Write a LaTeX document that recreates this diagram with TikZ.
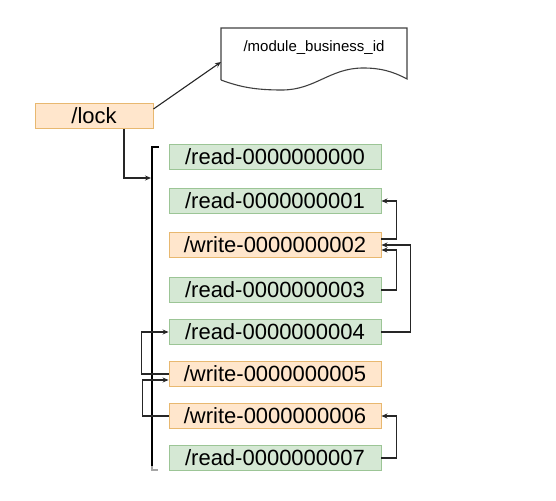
\documentclass[tikz,border=0pt]{standalone}
\usepackage{fontspec}
\setmainfont{Liberation Sans}
\usetikzlibrary{arrows.meta}
\definecolor{rdfill}{HTML}{D5E8D4}
\definecolor{rdline}{HTML}{9CC596}
\definecolor{wrfill}{HTML}{FFE6CC}
\definecolor{wrline}{HTML}{E8B870}

\begin{document}
\begin{tikzpicture}[x=1pt,y=-1pt,
   rd/.style={draw=rdline,fill=rdfill,line width=0.9pt,minimum width=212pt,
      minimum height=25pt,inner sep=0pt,font=\fontsize{22}{26}\selectfont},
   wr/.style={rd,draw=wrline,fill=wrfill},
   conn/.style={line width=1.1pt,black!85,-{Stealth[length=6pt,width=5pt]}}]
   \useasboundingbox (0,0) rectangle (556,500);
   %
   \node[wr,minimum width=118pt] (lock) at (94,116) {/lock};
   \node[font=\fontsize{15}{18}\selectfont] (doc) at (314,48) {/module\_business\_id};
   \coordinate (docin) at (221,62);
   \draw[line width=1.1pt,black!75] (221,80) -- (221,28) -- (407,28) -- (407,79)
      .. controls (392,71) and (380,68) .. (363,68)
      .. controls (330,68) and (315,90) .. (282,90)
      .. controls (255,90) and (240,87) .. (221,80);
   \draw[conn] ([yshift=7pt]lock.east) -- (docin);
   % скобка
   \draw[line width=1.3pt] (159,147) -- (152,147) -- (152,466);
   \draw[line width=1.1pt,black!35] (152,466) -- (152,470) -- (158,470);
   \coordinate (brk) at (151,178);
   \draw[conn] ([xshift=30pt]lock.south) |- (brk);
   % узлы
   \node[rd] (r0) at (275,157) {/read-0000000000};
   \node[rd] (r1) at (275,201) {/read-0000000001};
   \node[wr] (w2) at (275,245) {/write-0000000002};
   \node[rd] (r3) at (275,290) {/read-0000000003};
   \node[rd] (r4) at (275,332) {/read-0000000004};
   \node[wr] (w5) at (275,374) {/write-0000000005};
   \node[wr] (w6) at (275,416) {/write-0000000006};
   \node[rd] (r7) at (275,458) {/read-0000000007};
   % связи справа
   \draw[conn] ([yshift=6pt]w2.east) -- ++(15,0) |- (r1.east);
   \draw[conn] (r3.east) -- ++(15,0) |- ([yshift=-5pt]w2.east);
   \draw[conn] (r4.east) -- ++(29,0) |- (w2.east);
   \draw[conn] (r7.east) -- ++(15,0) |- (w6.east);
   % связи слева
   \draw[conn] (w5.west) -- ++(-27,0) |- (r4.west);
   \draw[conn] (w6.west) -- ++(-26,0) |- ([yshift=-6pt]w5.west);
\end{tikzpicture}
\end{document}
